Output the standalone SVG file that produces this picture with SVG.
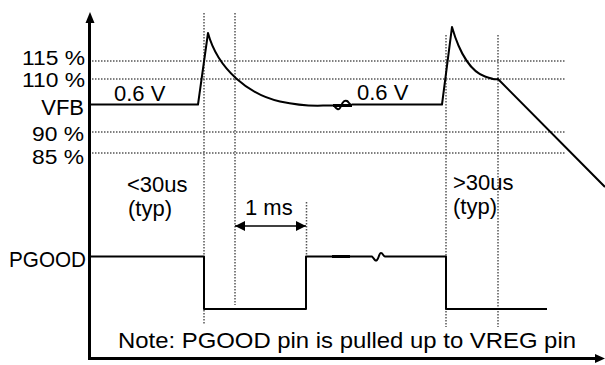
<svg xmlns="http://www.w3.org/2000/svg" width="605" height="365" viewBox="0 0 605 365">
<style>
text{font-family:"Liberation Sans",Arial,sans-serif;font-size:22px;fill:#000}
.r{text-anchor:end}
.lv{font-size:20px}
.dot{stroke:#555;stroke-width:1.5;stroke-dasharray:1.5 1.5;fill:none}
.sig{stroke:#000;stroke-width:2;fill:none;stroke-linejoin:round}
.thk{stroke:#000;stroke-width:3;fill:none}
.ax{stroke:#000;stroke-width:3;fill:none}
</style>
<defs>
<marker id="ah" viewBox="0 0 10 10" refX="10" refY="5" markerWidth="10" markerHeight="10" markerUnits="userSpaceOnUse" orient="auto-start-reverse"><path d="M0,0 L10,5 L0,10 z" fill="#000"/></marker>
</defs>
<g id="grid">
<path class="dot" d="M92,61H566M92,79H566M92,132H566M92,153H566"/>
<path class="dot" d="M204,13V325M235,13V305M306.5,202V257M446,35V327M498,35V327"/>
</g>
<g id="axes">
<path class="ax" d="M89.5,20V358.5H598"/>
<path d="M90,12L85.5,23H94.5z" fill="#000"/>
<path d="M605,358.5L595,354V363z" fill="#000"/>
</g>
<g id="labels">
<text class="r lv" x="85" y="64.5" textLength="63" lengthAdjust="spacingAndGlyphs">115 %</text>
<text class="r lv" x="85" y="87" textLength="63" lengthAdjust="spacingAndGlyphs">110 %</text>
<text class="r" x="84" y="115">VFB</text>
<text class="r lv" x="84" y="141" textLength="52" lengthAdjust="spacingAndGlyphs">90 %</text>
<text class="r lv" x="84" y="163.5" textLength="52" lengthAdjust="spacingAndGlyphs">85 %</text>
<text x="9" y="266.5" textLength="77" lengthAdjust="spacingAndGlyphs">PGOOD</text>
</g>
<g id="vfb">
<path class="sig" d="M90,104.5H198L208,33C218,70 250,95 280,101.5S320,105 333,105.5"/>
<path class="thk" d="M333,105.5H352"/>
<path class="sig" d="M334,105.5C337,110 339,111 341,106S345,100 347,101S349,104.5 352,105"/>
<path class="sig" d="M352,104.5H442L452,27C460,55 472,72 485,76.5S495,79 498,79L605,187"/>
<text x="114" y="101">0.6 V</text>
<text x="357" y="100">0.6 V</text>
</g>
<g id="pgood">
<path class="sig" d="M90,256.5H204V309H306V256.5H333"/>
<path class="thk" d="M332,256.5H350"/>
<path class="sig" d="M350,256.5H372C374,258 375,262 377,260S379,253 381,253S383,256 385,256.5H446V309H547"/>
<text x="127" y="192">&lt;30us</text>
<text x="128" y="216">(typ)</text>
<text x="453" y="190">&gt;30us</text>
<text x="453" y="214">(typ)</text>
</g>
<g id="connectors">
<path d="M235,226H306" stroke="#000" stroke-width="1.5" marker-start="url(#ah)" marker-end="url(#ah)"/>
<text x="245" y="215">1 ms</text>
</g>
<g id="note">
<text x="118" y="348" textLength="458" lengthAdjust="spacingAndGlyphs">Note: PGOOD pin is pulled up to VREG pin</text>
</g>
</svg>
